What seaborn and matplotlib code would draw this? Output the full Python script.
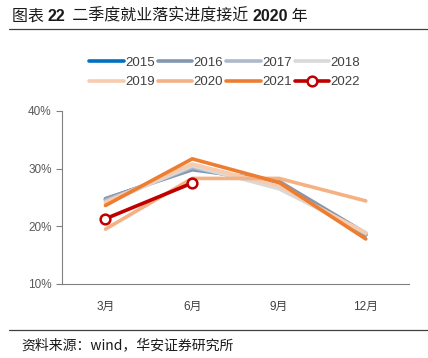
import pandas as pd
import matplotlib.pyplot as plt
import seaborn as sns
from matplotlib.lines import Line2D
from matplotlib.text import Annotation

# ==============================
# Dados
# ==============================
months = ['3月', '6月', '9月', '12月']
years = ['2015', '2016', '2017', '2018', '2019', '2020', '2021', '2022']
v2015 = [24.7, 30.0, 27.6, 18.5]
v2016 = [24.8, 29.8, 27.8, 18.8]
v2017 = [24.5, 30.2, 27.0, 18.6]
v2018 = [24.0, 30.5, 26.5, 18.9]
v2019 = [24.2, 30.8, 27.0, 18.8]
v2020 = [19.5, 28.3, 28.3, 24.4]
v2021 = [23.6, 31.7, 27.6, 17.8]
v2022 = [21.3, 27.5]
colors = ['#0070C0', '#8497B0', '#ADB9CA', '#D9D9D9',
          '#F8CBAD', '#F4B183', '#ED7D31', '#C00000']

series = [v2015, v2016, v2017, v2018, v2019, v2020, v2021, v2022]
rows = []
for y, vals in zip(years, series):
    for m, v in zip(months, vals):
        rows.append({'mes': m, 'ano': y, 'valor': v})
df = pd.DataFrame(rows)
df['x'] = df['mes'].map({m: i for i, m in enumerate(months)})

# ==============================
# Gráfico
# ==============================
sns.set_style('white')
fam = ['Liberation Sans', 'Noto Sans CJK SC']
plt.rcParams['font.family'] = fam

fig = plt.figure(figsize=(4.28, 3.58), dpi=100)
ax = fig.add_axes([0.145, 0.207, 0.811, 0.483])

pal = dict(zip(years, colors))
sns.lineplot(data=df[df['ano'] != '2022'], x='x', y='valor', hue='ano',
             palette=pal, linewidth=2.6, ax=ax, legend=False)
sns.lineplot(data=df[df['ano'] == '2022'], x='x', y='valor', color=pal['2022'],
             linewidth=2.6, marker='o', markersize=7, markerfacecolor='white',
             markeredgecolor=pal['2022'], markeredgewidth=1.8, ax=ax, legend=False)

ax.set_xlim(-0.5, 3.5)
ax.set_ylim(10, 40)
ax.set_yticks([10, 20, 30, 40])
ax.set_yticklabels([f'{t}%' for t in [10, 20, 30, 40]])
ax.set_xticks(range(4))
ax.set_xticklabels(months)
ax.set_xticks([-0.5, 0.5, 1.5, 2.5, 3.5], minor=True)
ax.tick_params(axis='x', which='major', length=0, pad=12, labelsize=8.5, colors='#404040')
ax.tick_params(axis='x', which='minor', length=4, color='#808080', direction='out')
ax.tick_params(axis='y', length=4, color='#808080', direction='out', labelsize=8.5,
               labelcolor='#595959', left=True)
ax.set_xlabel('')
ax.set_ylabel('')
for s in ['top', 'right']:
    ax.spines[s].set_visible(False)
for s in ['left', 'bottom']:
    ax.spines[s].set_color('#808080')
    ax.spines[s].set_linewidth(0.8)

# legenda (ordem por linha)
handles = []
for y, c in zip(years, colors):
    if y == '2022':
        handles.append(Line2D([], [], color=c, lw=2.6, marker='o', markersize=7,
                              markerfacecolor='white', markeredgewidth=1.8))
    else:
        handles.append(Line2D([], [], color=c, lw=2.6))
ordem = [0, 4, 1, 5, 2, 6, 3, 7]
fig.legend([handles[i] for i in ordem], [years[i] for i in ordem], ncol=4,
           loc='center', bbox_to_anchor=(0.525, 0.798),
           frameon=False, fontsize=9.5, handlelength=2.6, handletextpad=0.1,
           columnspacing=0.25, labelspacing=0.55, labelcolor='#404040')

# título em partes (números em negrito)
partes = [('图表 ', 'normal'), ('22', 'bold'), ('  二季度就业落实进度接近 ', 'normal'),
          ('2020', 'bold'), (' 年', 'normal')]
prev = fig.text(0.028, 0.955, partes[0][0], fontsize=11.5, color='#1a1a1a',
                va='center', family=['Noto Sans CJK SC'])
for txt, w in partes[1:]:
    a = Annotation(txt, xy=(1, 0.5), xycoords=prev, va='center', ha='left',
                   fontsize=11.5, color='#1a1a1a', fontweight=w,
                   family=fam if w == 'bold' else ['Noto Sans CJK SC'])
    fig.add_artist(a)
    prev = a
fig.add_artist(Line2D([0.02, 1.0], [0.918, 0.918], color='#404040', lw=0.9))
fig.add_artist(Line2D([0.02, 1.0], [0.078, 0.078], color='#404040', lw=0.9))
fig.text(0.05, 0.035, '资料来源：wind，华安证券研究所', fontsize=10,
         color='#1a1a1a', va='center', family=['Noto Sans CJK SC'])

fig.savefig('out.png', dpi=100)
